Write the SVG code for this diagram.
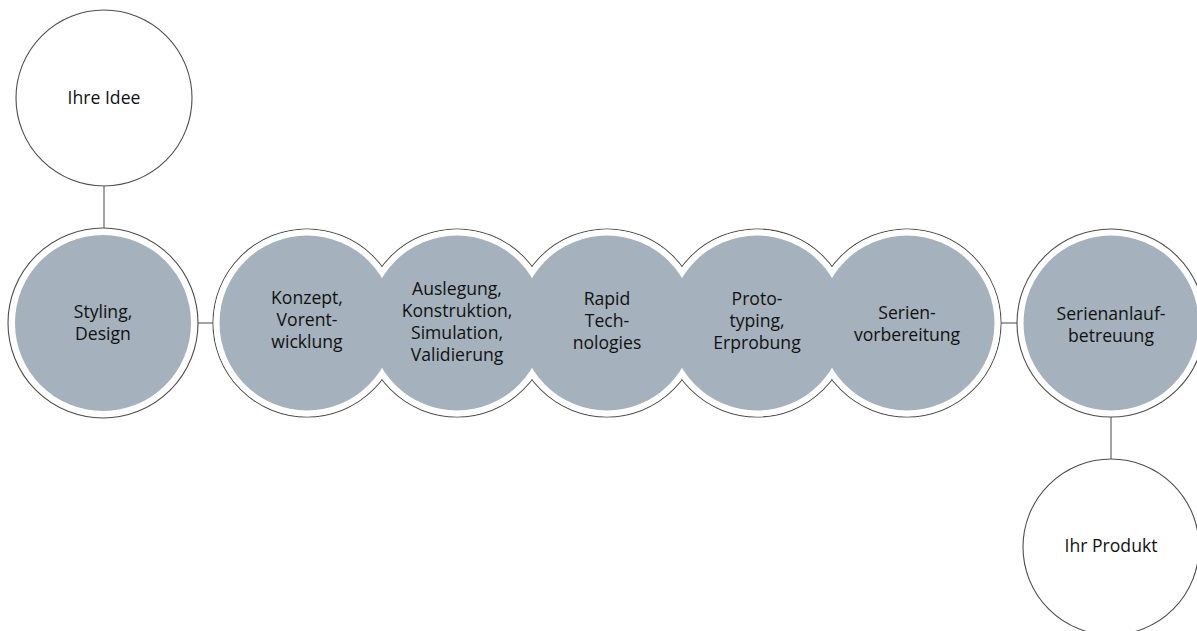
<svg xmlns="http://www.w3.org/2000/svg" width="1197" height="631" viewBox="0 0 1197 631">
<style>
.ring{fill:#fff;stroke:#4d4d4d;stroke-width:1.1}
.cover{fill:#fff;stroke:none}
.disc{fill:#a5b1bc}
.plain{fill:#fff;stroke:#4d4d4d;stroke-width:1.1}
.conn{stroke:#8c8c8c;stroke-width:1.6;fill:none}
text{font-family:"Open Sans","Liberation Sans",sans-serif;font-size:17.6px;fill:#111;text-anchor:middle}
</style>
<rect width="1197" height="631" fill="#fff"/>
<g id="connectors">
<line class="conn" x1="104" y1="186" x2="104" y2="228"/>
<line class="conn" x1="198" y1="323" x2="214" y2="323"/>
<line class="conn" x1="999" y1="323" x2="1018" y2="323"/>
<line class="conn" x1="1111" y1="417" x2="1111" y2="459"/>
</g>
<g id="node-idee">
<circle class="plain" cx="104" cy="98" r="88"/>
<text x="104" y="104">Ihre Idee</text>
</g>
<g id="node-styling">
<circle class="ring" cx="103" cy="323" r="95"/>
<circle class="disc" cx="103" cy="323" r="88"/>
<text x="103" y="318">Styling,</text>
<text x="103" y="340">Design</text>
</g>
<g id="chain-rings">
<circle class="ring" cx="307" cy="323" r="94"/>
<circle class="ring" cx="457" cy="323" r="94"/>
<circle class="ring" cx="607" cy="323" r="94"/>
<circle class="ring" cx="757" cy="323" r="94"/>
<circle class="ring" cx="907" cy="323" r="94"/>
<circle class="cover" cx="307" cy="323" r="93.4"/>
<circle class="cover" cx="457" cy="323" r="93.4"/>
<circle class="cover" cx="607" cy="323" r="93.4"/>
<circle class="cover" cx="757" cy="323" r="93.4"/>
<circle class="cover" cx="907" cy="323" r="93.4"/>
</g>
<g id="node-konzept">
<circle class="disc" cx="307" cy="323" r="87.5"/>
<text x="307" y="304">Konzept,</text>
<text x="307" y="326">Vorent-</text>
<text x="307" y="348">wicklung</text>
</g>
<g id="node-auslegung">
<circle class="disc" cx="457" cy="323" r="87.5"/>
<text x="457" y="295">Auslegung,</text>
<text x="457" y="317">Konstruktion,</text>
<text x="457" y="339">Simulation,</text>
<text x="457" y="361">Validierung</text>
</g>
<g id="node-rapid">
<circle class="disc" cx="607" cy="323" r="87.5"/>
<text x="607" y="305">Rapid</text>
<text x="607" y="327">Tech-</text>
<text x="607" y="349">nologies</text>
</g>
<g id="node-proto">
<circle class="disc" cx="757" cy="323" r="87.5"/>
<text x="757" y="305">Proto-</text>
<text x="757" y="327">typing,</text>
<text x="757" y="349">Erprobung</text>
</g>
<g id="node-serien">
<circle class="disc" cx="907" cy="323" r="87.5"/>
<text x="907" y="319">Serien-</text>
<text x="907" y="341">vorbereitung</text>
</g>
<g id="node-anlauf">
<circle class="ring" cx="1111" cy="323" r="94"/>
<circle class="disc" cx="1111" cy="323" r="87.5"/>
<text x="1111" y="320">Serienanlauf-</text>
<text x="1111" y="342">betreuung</text>
</g>
<g id="node-produkt">
<circle class="plain" cx="1111" cy="547" r="88"/>
<text x="1111" y="552">Ihr Produkt</text>
</g>
</svg>
